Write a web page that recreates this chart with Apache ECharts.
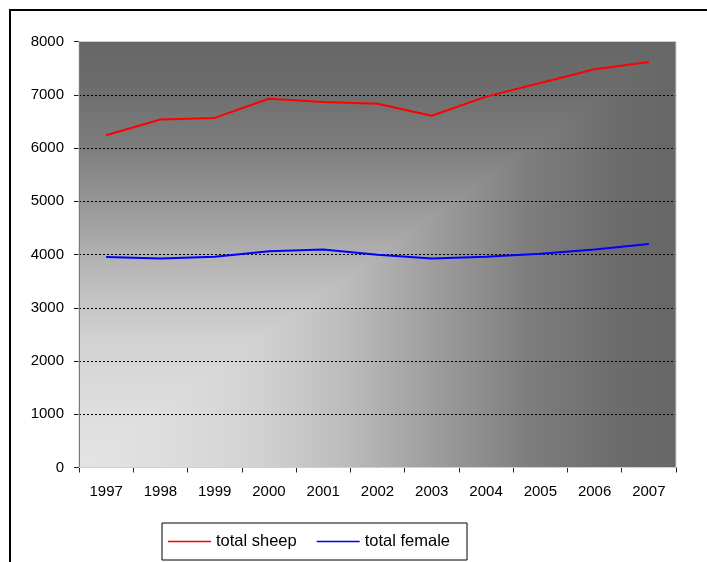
<!DOCTYPE html>
<html><head><meta charset="utf-8">
<script src="https://cdn.jsdelivr.net/npm/echarts@6/dist/echarts.min.js"></script>
<style>html,body{margin:0;padding:0;background:#fff}#c{width:707px;height:562px}</style>
</head><body><div id="c"></div>
<script>
const years = ['1997','1998','1999','2000','2001','2002','2003','2004','2005','2006','2007'];
const totalSheep = [6240, 6535, 6565, 6925, 6865, 6830, 6605, 6965, 7220, 7480, 7615];
const totalFemale = [3955, 3925, 3960, 4060, 4095, 3995, 3925, 3960, 4015, 4095, 4195];
const yMin = 0, yMax = 8000, yStep = 1000;
const seriesNames = ['total sheep', 'total female'];

const FONT = '"Liberation Sans", Arial, sans-serif';
const chart = echarts.init(document.getElementById('c'), null, {renderer: 'canvas'});

// corner gradient (light at bottom-left, dark at top/right)
function cornerGradient(w, h) {
  const cv = document.createElement('canvas');
  cv.width = w; cv.height = h;
  const ctx = cv.getContext('2d');
  const img = ctx.createImageData(w, h);
  const stops = [[0, 0xe4], [0.15, 0xdd], [0.3, 0xd2], [0.45, 0xbb], [0.6, 0x9c], [0.75, 0x7e], [0.9, 0x6c], [1, 0x66]];
  function g(t) {
    for (let i = 1; i < stops.length; i++) {
      if (t <= stops[i][0]) {
        const a = stops[i-1], b = stops[i];
        const f = (t - a[0]) / (b[0] - a[0]);
        return a[1] + (b[1] - a[1]) * f;
      }
    }
    return stops[stops.length-1][1];
  }
  for (let y = 0; y < h; y++) {
    for (let x = 0; x < w; x++) {
      const u = x / w, v = 1 - y / h;
      const c = Math.round(g(Math.max(u, v)));
      const k = (y * w + x) * 4;
      img.data[k] = c; img.data[k+1] = c; img.data[k+2] = c; img.data[k+3] = 255;
    }
  }
  ctx.putImageData(img, 0, 0);
  return cv;
}

const option = {
  animation: false,
  backgroundColor: '#fff',
  textStyle: {fontFamily: FONT},
  grid: {left: 79, right: 31, top: 41.5, bottom: 94.5, show: true, borderColor: '#cfcfcf', borderWidth: 1, backgroundColor: 'transparent', z: 1},
  xAxis: {
    type: 'category', data: years, boundaryGap: true,
    axisLine: {lineStyle: {color: '#222', width: 1}},
    axisTick: {show: true, length: 5, inside: false, interval: 0, lineStyle: {color: '#222'}},
    axisLabel: {color: '#000', fontSize: 15, margin: 17, interval: 0, fontFamily: FONT},
    splitLine: {show: false}
  },
  yAxis: {
    type: 'value', min: yMin, max: yMax, interval: yStep,
    axisLine: {show: true, lineStyle: {color: '#222', width: 1}},
    axisTick: {show: true, length: 5, lineStyle: {color: '#222'}},
    axisLabel: {color: '#000', fontSize: 15, margin: 15, fontFamily: FONT, formatter: v => String(v)},
    splitLine: {show: true, lineStyle: {color: '#000', type: [2, 2], width: 1}}
  },
  legend: {
    left: 162, top: 523,
    data: seriesNames,
    icon: 'rect', itemWidth: 43, itemHeight: 1.5, itemGap: 20,
    padding: [10, 17, 10, 6],
    borderColor: '#000', borderWidth: 1, backgroundColor: '#fff',
    textStyle: {fontSize: 16.5, color: '#000', fontFamily: FONT}
  },
  series: [
    {name: seriesNames[0], type: 'line', data: totalSheep, symbol: 'none', lineStyle: {color: '#ff0000', width: 2}, itemStyle: {color: '#ff0000'}, z: 5},
    {name: seriesNames[1], type: 'line', data: totalFemale, symbol: 'none', lineStyle: {color: '#0000ff', width: 2}, itemStyle: {color: '#0000ff'}, z: 5}
  ],
  graphic: [
    {type: 'rect', id: 'frame', shape: {x: 10, y: 10, width: 720, height: 600}, style: {fill: null, stroke: '#000', lineWidth: 2}, z: 100, silent: true}
  ]
};
chart.setOption(option);

const rect = chart.getModel().getComponent('grid').coordinateSystem.getRect();
const bg = cornerGradient(Math.round(rect.width), Math.round(rect.height));
chart.setOption({
  graphic: [
    {type: 'rect', id: 'frame', shape: {x: 10, y: 10, width: 720, height: 600}, style: {fill: null, stroke: '#000', lineWidth: 2}, z: 100, silent: true},
    {type: 'image', id: 'bg', x: rect.x, y: rect.y, style: {image: bg, width: rect.width, height: rect.height}, z: -10, silent: true}
  ]
});
</script></body></html>
